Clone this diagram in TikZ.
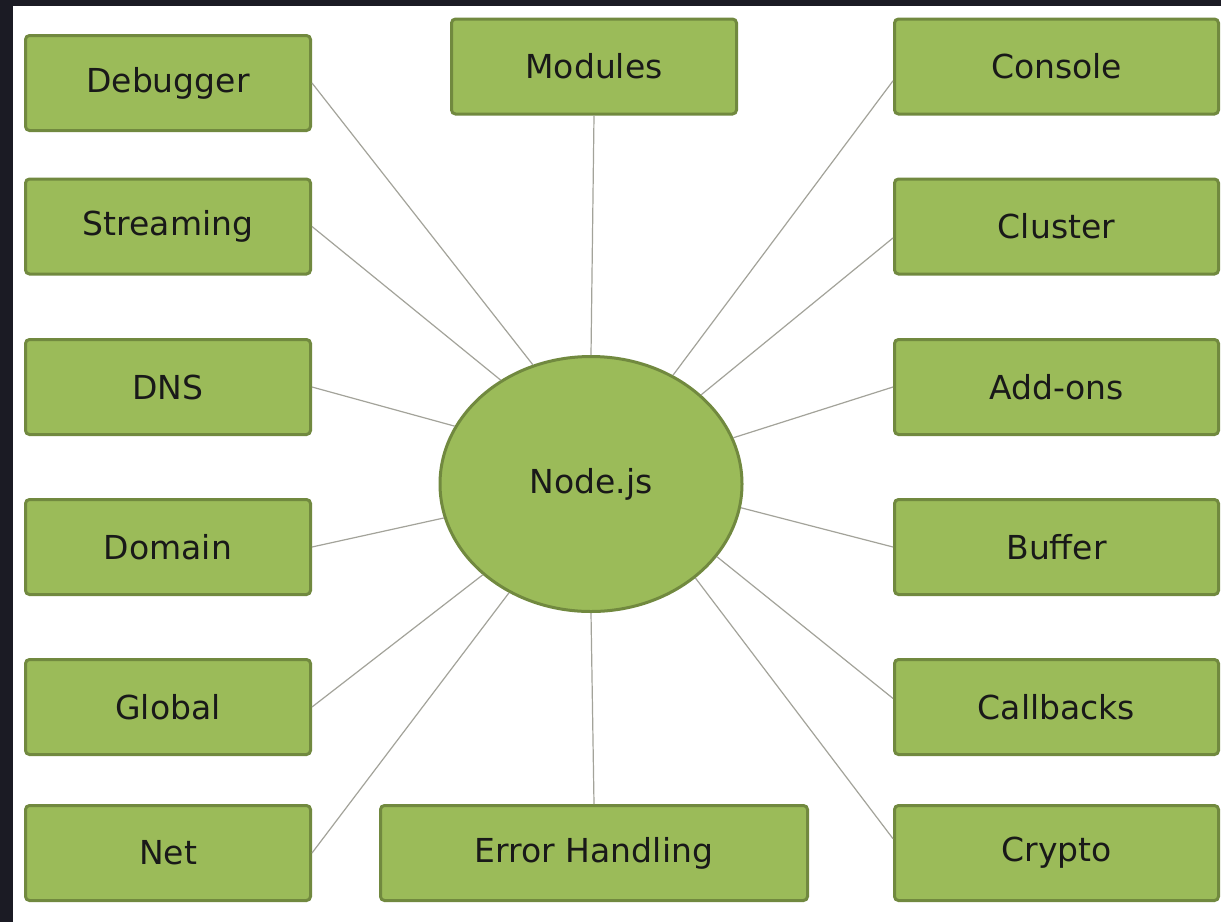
\documentclass[tikz,border=0pt]{standalone}
\usepackage{fontspec}
\setmainfont{DejaVu Sans}
\usetikzlibrary{shapes.geometric}
\definecolor{olivefill}{HTML}{9BBB59}
\definecolor{olivedraw}{HTML}{71893F}
\definecolor{linkgray}{HTML}{A3A39A}
\definecolor{frame}{HTML}{1B1B24}
\begin{document}
\begin{tikzpicture}[x=0.5pt, y=-0.5pt,
  every node/.style={font=\fontsize{16.5}{19}\selectfont, text=black!90},
  modbox/.style={draw=olivedraw, fill=olivefill, line width=1.5pt, rounded corners=2pt,
    minimum height=47.5pt, inner sep=0pt},
  leftbox/.style={modbox, minimum width=142.5pt},
  rightbox/.style={modbox, minimum width=162pt},
  hub/.style={ellipse, draw=olivedraw, fill=olivefill, line width=1.5pt,
    minimum width=151pt, minimum height=127.5pt, inner sep=0pt},
  link/.style={draw=linkgray, line width=0.6pt}]
\fill[frame] (0,0) rectangle (1221,922);
\fill[white] (13,6) rectangle (1221,922);
% left column
\node [leftbox] (dbg) at (168,83) {Debugger};
\node [leftbox] (str) at (168,226.5) {Streaming};
\node [leftbox] (dns) at (168,387) {DNS};
\node [leftbox] (dom) at (168,547) {Domain};
\node [leftbox] (glb) at (168,707) {Global};
\node [leftbox] (net) at (168,853) {Net};
% right column
\node [rightbox] (con) at (1056.5,66.5) {Console};
\node [rightbox] (clu) at (1056.5,226.5) {Cluster};
\node [rightbox] (add) at (1056.5,387) {Add-ons};
\node [rightbox] (buf) at (1056.5,547) {Buffer};
\node [rightbox] (cbk) at (1056.5,707) {Callbacks};
\node [rightbox] (cry) at (1056.5,853) {Crypto};
% top and bottom
\node [leftbox] (mod) at (594,66.5) {Modules};
\node [modbox, minimum width=213.5pt] (err) at (594,853) {Error Handling};
\node [hub] (njs) at (591,484) {Node.js};
\draw [link] (dbg.east) -- (njs.116) % spokes
  (str.east) -- (njs.131)
  (dns.east) -- (njs.157)
  (dom.east) -- (njs.193)
  (glb.east) -- (njs.220)
  (net.east) -- (njs.233)
  (mod.south) -- (njs.north)
  (err.north) -- (njs.south)
  (con.185) -- (njs.53)
  (clu.184) -- (njs.39)
  (add.west) -- (njs.18)
  (buf.west) -- (njs.-9)
  (cbk.177) -- (njs.-30)
  (cry.175) -- (njs.-42);
\end{tikzpicture}
\end{document}
